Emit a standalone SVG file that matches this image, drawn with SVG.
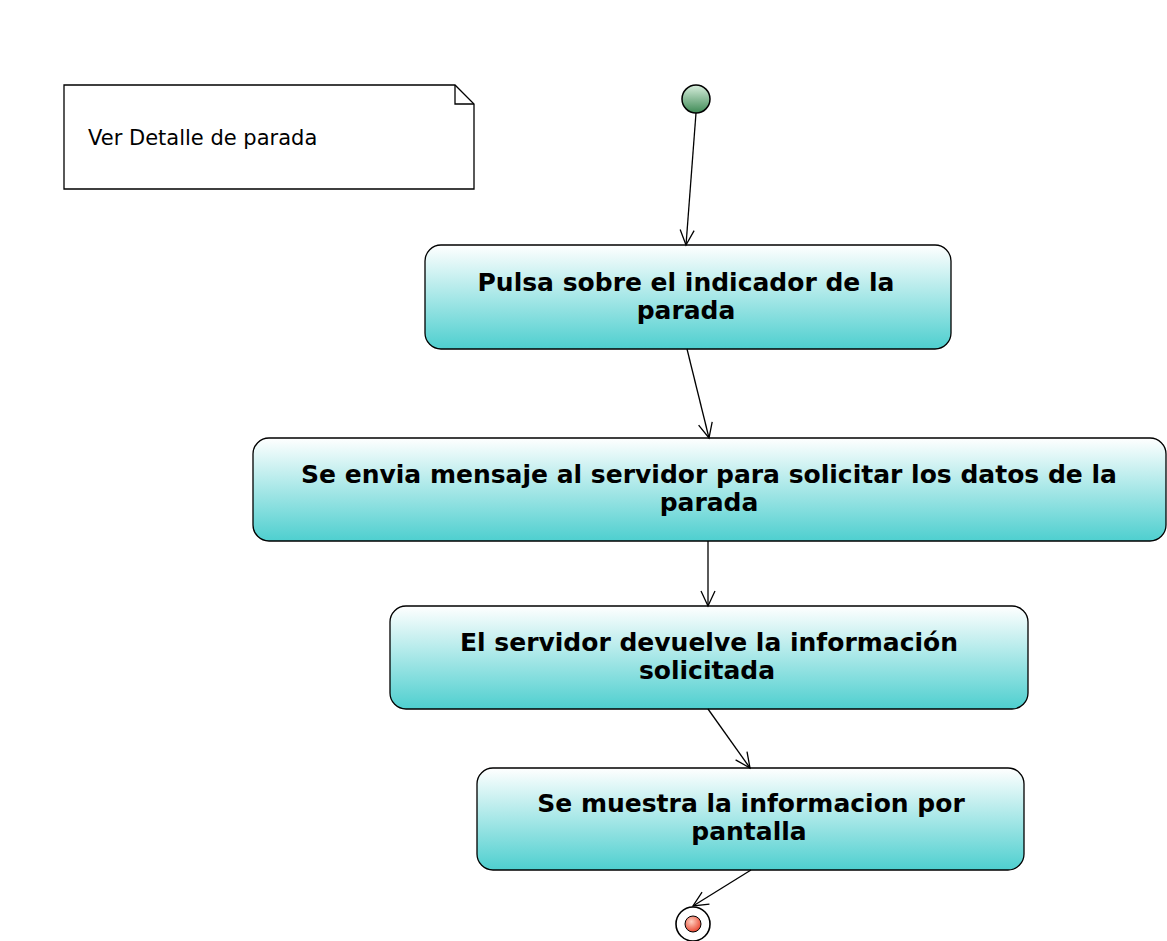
<svg xmlns="http://www.w3.org/2000/svg" width="1167" height="941" viewBox="0 0 1167 941">
<style>
.act{stroke:#000;stroke-width:1.3;fill:url(#g)}
.t{font-family:"DejaVu Sans",sans-serif;font-weight:bold;font-size:25px;text-anchor:middle;fill:#000}
.c{stroke:#000;stroke-width:1.3;fill:none;marker-end:url(#a)}
</style>
<defs>
<linearGradient id="g" x1="0" y1="0" x2="0" y2="1">
<stop offset="0" stop-color="#ffffff"/>
<stop offset="1" stop-color="#4ecfcf"/>
</linearGradient>
<linearGradient id="gs" x1="0" y1="0" x2="0" y2="1">
<stop offset="0" stop-color="#d8eedd"/>
<stop offset="1" stop-color="#3e8a55"/>
</linearGradient>
<radialGradient id="ge" cx="0.4" cy="0.35" r="0.7">
<stop offset="0" stop-color="#ffd0c0"/>
<stop offset="1" stop-color="#e8402a"/>
</radialGradient>
<marker id="a" viewBox="0 0 20 20" refX="16" refY="10" markerWidth="20" markerHeight="20" markerUnits="userSpaceOnUse" orient="auto">
<path d="M1,3 L16,10 L1,17" fill="none" stroke="#000" stroke-width="1.3"/>
</marker>
</defs>
<rect width="1167" height="941" fill="#fff"/>
<g id="note">
<path d="M64,85 H455 L474,104 V189 H64 Z" fill="#fff" stroke="#000" stroke-width="1.3"/>
<path d="M455,85 V104 H474" fill="none" stroke="#000" stroke-width="1.3"/>
<text x="88" y="145" font-family="DejaVu Sans,sans-serif" font-size="21">Ver Detalle de parada</text>
</g>
<g id="start">
<circle cx="696" cy="99" r="14" fill="url(#gs)" stroke="#000" stroke-width="1.5"/>
</g>
<g id="a1">
<rect class="act" x="425" y="245" width="526" height="104" rx="16"/>
<text class="t" x="686" y="291">Pulsa sobre el indicador de la</text>
<text class="t" x="686" y="319">parada</text>
</g>
<g id="a2">
<rect class="act" x="253" y="438" width="913" height="103" rx="16"/>
<text class="t" x="709" y="483">Se envia mensaje al servidor para solicitar los datos de la</text>
<text class="t" x="709" y="511">parada</text>
</g>
<g id="a3">
<rect class="act" x="390" y="606" width="638" height="103" rx="16"/>
<text class="t" x="709" y="651">El servidor devuelve la información</text>
<text class="t" x="707" y="679">solicitada</text>
</g>
<g id="a4">
<rect class="act" x="477" y="768" width="547" height="102" rx="16"/>
<text class="t" x="751" y="812">Se muestra la informacion por</text>
<text class="t" x="749" y="840">pantalla</text>
</g>
<g id="end">
<circle cx="693" cy="924" r="17" fill="#fff" stroke="#000" stroke-width="1.6"/>
<circle cx="693" cy="924" r="8" fill="url(#ge)" stroke="#000" stroke-width="1"/>
</g>
<g id="connectors">
<line class="c" x1="696" y1="113" x2="686" y2="245"/>
<line class="c" x1="687" y1="349" x2="709" y2="438"/>
<line class="c" x1="708" y1="541" x2="708" y2="606"/>
<line class="c" x1="708" y1="709" x2="750" y2="768"/>
<line class="c" x1="751" y1="870" x2="693" y2="906"/>
</g>
</svg>
